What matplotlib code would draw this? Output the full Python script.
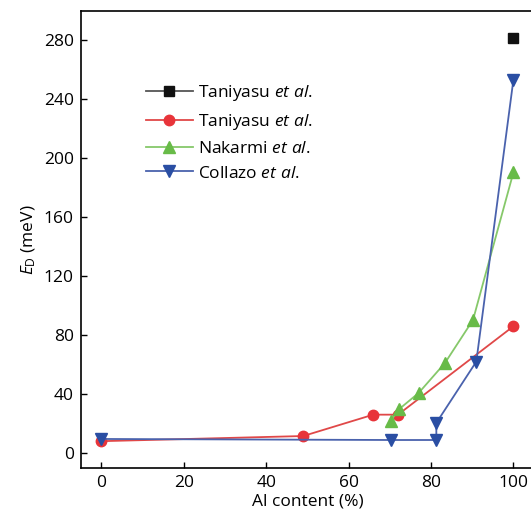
import matplotlib
matplotlib.use("Agg")
import matplotlib.pyplot as plt

# data
tan1_x = [100]
tan1_y = [282]

tan2_x = [0, 49, 66, 72, 100]
tan2_y = [8, 11.5, 26, 26, 86]

nak_x = [70.2, 72.2, 77, 83.4, 90.2, 100]
nak_y = [21.7, 29.6, 40.7, 61.1, 90.3, 190.4]

col_x = [0, 70.4, 81.3, 81.3, 91, 100]
col_y = [9.5, 8.8, 8.8, 20.4, 62, 253.3]

x_ticks = [0, 20, 40, 60, 80, 100]
y_ticks = [0, 40, 80, 120, 160, 200, 240, 280]

plt.rcParams['font.family'] = ['Open Sans', 'DejaVu Sans']
plt.rcParams['mathtext.fontset'] = 'custom'
plt.rcParams['mathtext.rm'] = 'Open Sans'
plt.rcParams['mathtext.it'] = 'Open Sans:italic'

fig = plt.figure(figsize=(5.31, 5.14), dpi=100)
W, H = 531, 514
left, right, top, bottom = 80.7, 534.0, 11.0, 467.7
ax = fig.add_axes([left / W, 1 - bottom / H, (right - left) / W, (bottom - top) / H])

ax.plot(tan1_x, tan1_y, color='#555555', lw=1.3, marker='s', ms=6.5,
        mfc='#111111', mec='#111111', label=r'Taniyasu $\mathit{et\ al}$.')
ax.plot(tan2_x, tan2_y, color='#e04848', lw=1.3, marker='o', ms=7.5,
        mfc='#e8343a', mec='#e8343a', label=r'Taniyasu $\mathit{et\ al}$.')
ax.plot(nak_x, nak_y, color='#86c86a', lw=1.3, marker='^', ms=8.5,
        mfc='#68bb48', mec='#68bb48', label=r'Nakarmi $\mathit{et\ al}$.')
ax.plot(col_x, col_y, color='#4a62ad', lw=1.3, marker='v', ms=8.5,
        mfc='#2a4ea3', mec='#2a4ea3', label=r'Collazo $\mathit{et\ al}$.')

ax.set_xlim(-5, 105)
ax.set_ylim(-10, 300)
ax.set_xticks(x_ticks)
ax.set_yticks(y_ticks)
ax.tick_params(direction='in', length=4, width=1, labelsize=12.5, pad=5)
for s in ax.spines.values():
    s.set_linewidth(1.2)

ax.set_xlabel('Al content (%)', fontsize=12.5, labelpad=2)
ax.set_ylabel(r'$E_{\mathrm{D}}$ (meV)', fontsize=12.5, labelpad=4)

ax.legend(loc='upper left', bbox_to_anchor=(0.144, 0.842), frameon=False,
          fontsize=12.5, borderpad=0, borderaxespad=0, handlelength=2.7,
          handletextpad=0.3, labelspacing=0.5)

fig.savefig('out.png', dpi=100)
